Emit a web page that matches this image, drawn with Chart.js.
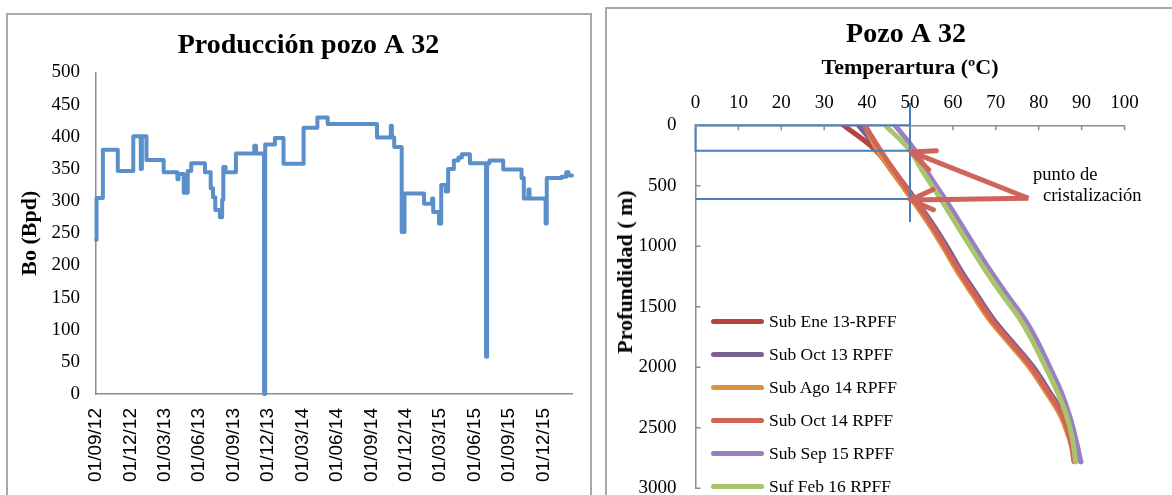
<!DOCTYPE html>
<html>
<head>
<meta charset="utf-8">
<script src="https://cdn.jsdelivr.net/npm/chart.js@4.4.1/dist/chart.umd.min.js"></script>
<style>
  html, body { margin: 0; padding: 0; width: 1172px; height: 495px; overflow: hidden; background: #fff; }
  .frame { position: absolute; border: 2px solid #a9a9a9; background: #fff; }
  #frameA { left: 6px; top: 13px; width: 582px; height: 600px; }
  #frameB { left: 605px; top: 7px; width: 620px; height: 600px; }
  canvas { position: absolute; }
  #prod { left: 8px; top: 15px; }
  #temp { left: 607px; top: 9px; }
  #yTitleB { position: absolute; left: 625px; top: 272px; transform: translate(-50%, -50%) rotate(-90deg);
    font: bold 22px "Liberation Serif", serif; white-space: nowrap; color: #000; }
  #legendB { position: absolute; left: 711px; top: 305px; font: 17.5px "Liberation Serif", serif; color: #000; }
  #legendB div { height: 33px; line-height: 33px; white-space: nowrap; }
  #legendB span.sw { display: inline-block; width: 53px; height: 5px; border-radius: 3px; vertical-align: middle; margin-right: 5px; position: relative; top: -1px; }
</style>
</head>
<body>
<div class="frame" id="frameA"></div>
<div class="frame" id="frameB"></div>
<canvas id="prod" width="601" height="480"></canvas>
<canvas id="temp" width="598" height="520"></canvas>
<div id="yTitleB">Profundidad ( m)</div>
<div id="legendB"></div>
<script>
// ---- Producción pozo A 32 (months counted from 01/09/12) ----
var prodMonths = [0, 0.05, 0.6, 1.9, 3.25, 3.9, 4.0, 4.4, 5.9, 7.1, 7.2, 7.65, 8.0, 8.3, 9.5,
  10.0, 10.2, 10.4, 10.8, 11.0, 11.1, 11.3, 12.2, 13.8, 13.95, 14.65, 14.75, 15.6, 16.35, 18.1,
  19.3, 20.2, 24.5, 25.7, 25.8, 26.0, 26.65, 26.9, 28.6, 29.3, 29.4, 29.9, 30.1, 30.5, 30.7,
  31.2, 31.6, 31.9, 32.6, 34.0, 34.1, 34.3, 35.5, 37.1, 37.3, 37.7, 37.8, 39.2, 39.3, 40.6,
  41.0, 41.2, 41.5];
var prodValues = [240, 305, 380, 347, 401, 350, 401, 364, 345, 334, 342, 313, 347, 359, 345,
  320, 306, 286, 275, 302, 353, 345, 374, 386, 374, 0, 388, 398, 358, 414,
  430, 420, 399, 417, 399, 384, 252, 312, 296, 304, 283, 265, 325, 315, 350,
  363, 368, 373, 359, 58, 359, 363, 349, 336, 304, 318, 304, 265, 336, 338,
  345, 340, 340];
var prodTickMonths = [0, 3, 6, 9, 12, 15, 18, 21, 24, 27, 30, 33, 36, 39];
var prodTickLabels = ['01/09/12', '01/12/12', '01/03/13', '01/06/13', '01/09/13', '01/12/13', '01/03/14',
  '01/06/14', '01/09/14', '01/12/14', '01/03/15', '01/06/15', '01/09/15', '01/12/15'];

// ---- Pozo A 32: temperature vs depth ----
var depthLevels = [0, 200, 400, 600, 800, 1000, 1200, 1400, 1600, 1800, 2000, 2200, 2400, 2600, 2780];
var seriesNames = ['Sub Ene 13-RPFF', 'Sub Oct 13 RPFF', 'Sub Ago 14 RPFF', 'Sub Oct 14 RPFF', 'Sub Sep 15 RPFF', 'Suf Feb 16 RPFF'];
var seriesColors = ['#b4443f', '#7b6193', '#e0913f', '#d26359', '#9a7fc2', '#a8c56b'];
var tempEne13 = [34.5, 41.8, 46.2, 50.3, 54.3, 57.8, 61.1, 64.8, 68.6, 73.3, 78.0, 81.8, 85.3, 87.3, 88.6];
var tempOct13 = [38.0, 42.6, 46.8, 51.0, 55.0, 58.6, 61.9, 65.6, 69.4, 74.1, 78.8, 82.5, 85.9, 87.9, 89.8];
var tempAgo14 = [39.5, 42.3, 46.3, 50.2, 54.1, 57.6, 60.9, 64.6, 68.4, 73.1, 77.8, 81.6, 85.1, 87.3, 89.8];
var tempOct14 = [39.5, 43.0, 46.8, 50.7, 54.6, 58.1, 61.4, 65.1, 68.9, 73.6, 78.3, 82.1, 85.5, 87.4, 88.2];
var tempSep15 = [46.5, 51.0, 54.3, 58.0, 61.6, 65.1, 68.7, 72.6, 76.7, 79.9, 82.6, 85.2, 87.2, 88.7, 89.8];
var tempFeb16 = [44.2, 49.8, 53.3, 57.0, 60.5, 64.0, 67.6, 71.5, 75.6, 78.8, 81.6, 84.3, 86.5, 87.9, 88.6];
var seriesTemps = [tempEne13, tempOct13, tempAgo14, tempOct14, tempSep15, tempFeb16];

// blue guide lines (null = break)
var guideTemps = [50, 0, 0, 50, null, 0, 50, null, 50, 50];
var guideDepths = [0, 0, 210, 210, null, 610, 610, null, -185, 800];

// arrows "punto de cristalización"
var arrowTail = { temp: 77.6, depth: 603 };
var arrowTipTemps = [50.3, 50.1];
var arrowTipDepths = [220, 617];
var noteLines = ['punto de', 'cristalización'];
var noteTemps = [78.7, 81.0];
var noteDepths = [411, 584];

Chart.defaults.color = '#000';
Chart.defaults.font.family = '"Liberation Serif", serif';

var axisGray = '#8c8c8c';

// spacer axis on the right, only keeps the plot narrower than the title box
function spacer(w) {
  return {
    position: 'right',
    display: true,
    grid: { display: false, drawTicks: false },
    border: { display: false },
    ticks: { display: false },
    afterFit: function (s) { s.width = w; }
  };
}

// ---------- left chart ----------
new Chart(document.getElementById('prod'), {
  type: 'line',
  data: {
    datasets: [{
      data: prodMonths.map(function (m, i) { return { x: m, y: prodValues[i] }; }),
      xAxisID: 'x',
      yAxisID: 'y',
      borderColor: '#5b8fca',
      borderWidth: 4,
      pointRadius: 0,
      stepped: true,
      borderCapStyle: 'round',
      borderJoinStyle: 'round',
      clip: false
    }]
  },
  options: {
    responsive: false,
    animation: false,
    layout: { padding: 0 },
    plugins: {
      legend: { display: false },
      tooltip: { enabled: false },
      title: {
        display: true,
        text: 'Producción pozo A 32',
        font: { size: 28, weight: 'bold' },
        padding: { top: 14.2, bottom: 9.7 }
      }
    },
    scales: {
      x: {
        type: 'linear',
        min: 0,
        max: 41.5,
        grid: { display: false, drawTicks: false },
        border: { display: true, color: axisGray, width: 1.5 },
        afterBuildTicks: function (s) { s.ticks = prodTickMonths.map(function (v) { return { value: v }; }); },
        afterFit: function (s) { s.height = 101; },
        ticks: {
          autoSkip: false,
          minRotation: 90,
          maxRotation: 90,
          padding: 14,
          font: { family: '"Liberation Sans", sans-serif', size: 19 },
          callback: function (v, i) { return prodTickLabels[i]; }
        }
      },
      y: {
        min: 0,
        max: 500,
        grid: { display: false, drawTicks: false },
        border: { display: true, color: axisGray, width: 1.5 },
        afterFit: function (s) { s.width = 88; },
        ticks: { stepSize: 50, padding: 16, font: { size: 19 } },
        title: { display: true, text: 'Bo (Bpd)', font: { size: 22, weight: 'bold' }, padding: { top: 9.5, bottom: 0 } }
      },
      pad: spacer(37)
    }
  }
});

// ---------- right chart ----------
var innerTicks = {
  id: 'innerTicks',
  afterDraw: function (chart) {
    var ctx = chart.ctx, a = chart.chartArea;
    var xs = chart.scales.x, ys = chart.scales.y;
    ctx.save();
    ctx.strokeStyle = axisGray;
    ctx.lineWidth = 1.5;
    ctx.beginPath();
    xs.ticks.forEach(function (t) {
      var px = xs.getPixelForValue(t.value);
      ctx.moveTo(px, a.top); ctx.lineTo(px, a.top + 5);
    });
    ys.ticks.forEach(function (t) {
      var py = ys.getPixelForValue(t.value);
      ctx.moveTo(a.left, py); ctx.lineTo(a.left + 5, py);
    });
    ctx.stroke();
    ctx.restore();
  }
};

var crystalNote = {
  id: 'crystalNote',
  afterDraw: function (chart) {
    var ctx = chart.ctx, xs = chart.scales.x, ys = chart.scales.y;
    var tx = xs.getPixelForValue(arrowTail.temp), ty = ys.getPixelForValue(arrowTail.depth);
    ctx.save();
    ctx.strokeStyle = '#d0645c';
    ctx.lineWidth = 5;
    ctx.lineJoin = 'round';
    arrowTipTemps.forEach(function (t, i) {
      var hx = xs.getPixelForValue(t), hy = ys.getPixelForValue(arrowTipDepths[i]);
      var ang = Math.atan2(ty - hy, tx - hx);
      ctx.lineCap = 'butt';
      ctx.beginPath();
      ctx.moveTo(tx, ty); ctx.lineTo(hx, hy);
      ctx.stroke();
      ctx.lineCap = 'round';
      ctx.beginPath();
      ctx.moveTo(hx + 25 * Math.cos(ang - 0.42), hy + 25 * Math.sin(ang - 0.42));
      ctx.lineTo(hx, hy);
      ctx.lineTo(hx + 25 * Math.cos(ang + 0.42), hy + 25 * Math.sin(ang + 0.42));
      ctx.stroke();
    });
    ctx.fillStyle = '#000';
    ctx.font = '18.5px "Liberation Serif", serif';
    ctx.textBaseline = 'middle';
    ctx.textAlign = 'left';
    noteLines.forEach(function (txt, i) {
      ctx.fillText(txt, xs.getPixelForValue(noteTemps[i]), ys.getPixelForValue(noteDepths[i]));
    });
    ctx.restore();
  }
};

var tempDatasets = seriesNames.map(function (name, i) {
  return {
    label: name,
    data: depthLevels.map(function (d, k) { return { x: seriesTemps[i][k], y: d }; }),
    xAxisID: 'x',
    yAxisID: 'y',
    borderColor: seriesColors[i],
    borderWidth: 5,
    pointRadius: 0,
    tension: 0.4,
    borderCapStyle: 'round',
    order: seriesNames.length - i
  };
});
tempDatasets.push({
  label: 'guide',
  data: guideTemps.map(function (t, i) { return { x: t, y: guideDepths[i] }; }),
  xAxisID: 'x',
  yAxisID: 'y',
  borderColor: '#4a7ebb',
  borderWidth: 2,
  pointRadius: 0,
  tension: 0,
  spanGaps: false,
  clip: false,
  order: 0
});

new Chart(document.getElementById('temp'), {
  type: 'line',
  data: { datasets: tempDatasets },
  options: {
    responsive: false,
    animation: false,
    layout: { padding: { left: 0, right: 0, top: 0, bottom: 40.7 } },
    plugins: {
      legend: { display: false },
      tooltip: { enabled: false },
      title: {
        display: true,
        text: 'Pozo A 32',
        font: { size: 28, weight: 'bold' },
        padding: { top: 9.2, bottom: 0 }
      }
    },
    scales: {
      x: {
        type: 'linear',
        position: 'top',
        min: 0,
        max: 100,
        grid: { display: false, drawTicks: false },
        border: { display: true, color: axisGray, width: 1.5 },
        afterFit: function (s) { s.height = 73.5; },
        ticks: { stepSize: 10, padding: 11, font: { size: 19 } },
        title: { display: true, text: 'Temperartura (ºC)', font: { size: 22, weight: 'bold' }, padding: { top: 3.5, bottom: 0 } }
      },
      y: {
        type: 'linear',
        reverse: true,
        min: 0,
        max: 3000,
        grid: { display: false, drawTicks: false },
        border: { display: true, color: axisGray, width: 1.5 },
        afterFit: function (s) { s.width = 88.5; },
        ticks: { stepSize: 500, padding: 19, font: { size: 19 }, callback: function (v) { return String(v); } }
      },
      pad: spacer(80.5)
    }
  },
  plugins: [innerTicks, crystalNote]
});

// legend for the six profiles
var legendBox = document.getElementById('legendB');
seriesNames.forEach(function (name, i) {
  var row = document.createElement('div');
  var sw = document.createElement('span');
  sw.className = 'sw';
  sw.style.background = seriesColors[i];
  row.appendChild(sw);
  row.appendChild(document.createTextNode(name));
  legendBox.appendChild(row);
});
</script>
</body>
</html>
